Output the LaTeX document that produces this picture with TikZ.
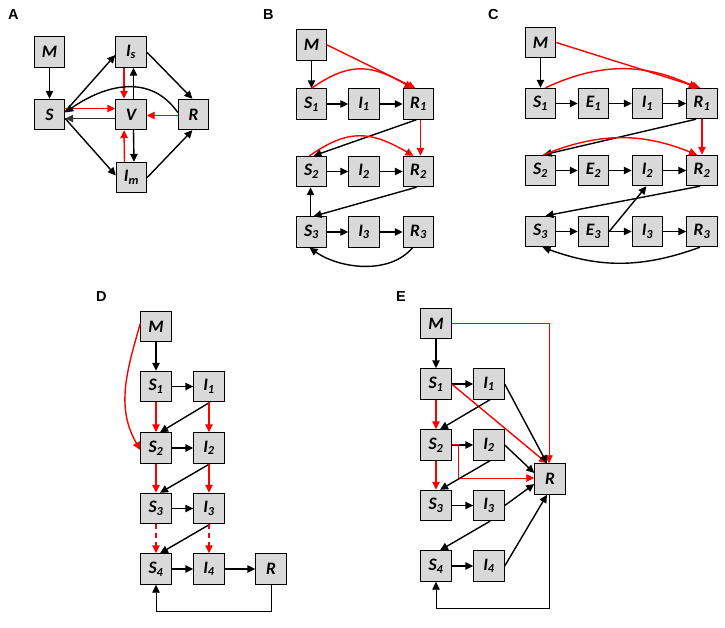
\documentclass[tikz,border=0pt]{standalone}
\usepackage{fontspec}
\setmainfont{Carlito}
\newfontfamily\panelfont{Liberation Sans}
\usetikzlibrary{arrows.meta}
\definecolor{boxgray}{RGB}{217,217,217}
\definecolor{flowred}{RGB}{255,0,0}
\tikzset{
    comp/.style={rectangle, draw=black, line width=0.9pt, fill=boxgray,
                 minimum size=30.5pt, inner sep=0pt,
                 font=\fontsize{17.5}{19}\selectfont\bfseries\itshape},
    panel/.style={font=\fontsize{14.5}{16}\selectfont\panelfont\bfseries,
                  inner sep=0pt, anchor=north west},
    flow/.style={-{Triangle[length=8pt,width=7.5pt]}, line width=1.4pt, draw=black},
    redflow/.style={flow, draw=flowred},
    thinflow/.style={flow, line width=0.8pt},
}

\begin{document}
\begin{tikzpicture}[x=1pt, y=1pt]
    \useasboundingbox (0,0) rectangle (725,-627);

    % A
    \node[panel] (lblA) at (8,-9) {A};
    \node[comp] (aM) at (49.5,-52) {M};
    \node[comp] (aS) at (49.5,-114.5) {S};
    \node[comp] (aIs) at (131,-52) {I\textsubscript{s}};
    \node[comp] (aV) at (131,-114.5) {V};
    \node[comp] (aR) at (193.5,-114.5) {R};
    \node[comp] (aIm) at (131.5,-177.5) {I\textsubscript{m}};
    \draw[flow] (aM) -- (aS);
    \draw[flow] ([yshift=3]aS.east) -- ([yshift=-3]aIs.west);
    \draw[flow] ([yshift=-4]aS.east) -- ([yshift=2]aIm.west);
    \draw[flow] (aIs.east) -- ([xshift=-1]aR.north);
    \draw[flow] (aIm.east) -- ([xshift=-1]aR.south);
    \draw[flow, draw=black!80] ([yshift=-4]aV.west) -- ([yshift=-4]aS.east);
    \draw[redflow] ([yshift=6]aS.east) -- ([yshift=6]aV.west);
    \draw[redflow] ([yshift=-1]aR.west) -- ([yshift=-1]aV.east);
    \draw[redflow] ([xshift=-7]aIs.south) -- ([xshift=-7]aV.north);
    \draw[flow] ([xshift=2.5]aV.north) -- ([xshift=2.5]aIs.south);
    \draw[flow] ([xshift=2.5]aV.south) -- ([xshift=2.5]aIm.north);
    \draw[redflow] ([xshift=-7]aIm.north) -- ([xshift=-7]aV.south);
    \draw[flow] ([yshift=2]aR.west) to[out=125, in=35, looseness=1.1] ([yshift=2]aS.east);

    % B
    \node[panel] (lblB) at (263,-9) {B};
    \node[comp] (bM) at (311.5,-45) {M};
    \node[comp] (bS1) at (311.5,-104) {S\textsubscript{1}};
    \node[comp] (bI1) at (364,-104) {I\textsubscript{1}};
    \node[comp] (bR1) at (418.5,-104) {R\textsubscript{1}};
    \node[comp] (bS2) at (311.5,-171.5) {S\textsubscript{2}};
    \node[comp] (bI2) at (364,-171.5) {I\textsubscript{2}};
    \node[comp] (bR2) at (418.5,-171.5) {R\textsubscript{2}};
    \node[comp] (bS3) at (311.5,-232) {S\textsubscript{3}};
    \node[comp] (bI3) at (364,-232) {I\textsubscript{3}};
    \node[comp] (bR3) at (418.5,-232) {R\textsubscript{3}};
    \draw[flow] (bM) -- (bS1);
    \draw[redflow] (bM.east) -- ([xshift=-3]bR1.north);
    \draw[redflow] (bS1.north) to[out=35, in=150, looseness=1.2] ([xshift=-6]bR1.north);
    \draw[flow] (bS1) -- (bI1);
    \draw[flow] (bI1) -- (bR1);
    \draw[flow] ([xshift=-2]bR1.south) -- ([xshift=2]bS2.north);
    \draw[redflow] ([xshift=2]bR1.south) -- ([xshift=2]bR2.north);
    \draw[redflow] ([xshift=-2]bS2.north) to[out=35, in=150, looseness=1.2] ([xshift=-5]bR2.north);
    \draw[flow] (bS2) -- (bI2);
    \draw[flow] (bI2) -- (bR2);
    \draw[flow] ([xshift=-2]bR2.south) -- ([xshift=2]bS3.north);
    \draw[flow] ([xshift=-1]bS3.north) -- ([xshift=-1]bS2.south);
    \draw[flow] (bS3) -- (bI3);
    \draw[flow] (bI3) -- (bR3);
    \draw[flow] ([xshift=-6]bR3.south) to[out=-130, in=-35, looseness=0.9] ([xshift=-2]bS3.south);

    % C
    \node[panel] (lblC) at (488,-9) {C};
    \node[comp] (cM) at (540.5,-42.5) {M};
    \node[comp] (cS1) at (540.5,-103.5) {S\textsubscript{1}};
    \node[comp] (cE1) at (593.5,-103.5) {E\textsubscript{1}};
    \node[comp] (cI1) at (647.5,-103.5) {I\textsubscript{1}};
    \node[comp] (cR1) at (702,-103.5) {R\textsubscript{1}};
    \node[comp] (cS2) at (540.5,-170.5) {S\textsubscript{2}};
    \node[comp] (cE2) at (593.5,-170.5) {E\textsubscript{2}};
    \node[comp] (cI2) at (647.5,-170.5) {I\textsubscript{2}};
    \node[comp] (cR2) at (702,-170.5) {R\textsubscript{2}};
    \node[comp] (cS3) at (540.5,-231.5) {S\textsubscript{3}};
    \node[comp] (cE3) at (593.5,-231.5) {E\textsubscript{3}};
    \node[comp] (cI3) at (647.5,-231.5) {I\textsubscript{3}};
    \node[comp] (cR3) at (702,-231.5) {R\textsubscript{3}};
    \draw[flow] (cM) -- (cS1);
    \draw[redflow] (cM.east) -- ([xshift=-2]cR1.north);
    \draw[redflow] ([xshift=5]cS1.north) to[out=25, in=155] ([xshift=-5]cR1.north);
    \draw[flow] (cS1) -- (cE1);
    \draw[flow] (cE1) -- (cI1);
    \draw[flow] (cI1) -- (cR1);
    \draw[flow] ([xshift=-6]cR1.south) -- ([xshift=3]cS2.north);
    \draw[redflow] (cR1) -- (cR2);
    \draw[redflow] ([xshift=3]cS2.north) to[out=22, in=158] ([xshift=-5]cR2.north);
    \draw[flow] (cS2) -- (cE2);
    \draw[flow] (cE2) -- (cI2);
    \draw[flow] (cI2) -- (cR2);
    \draw[flow] ([xshift=-2]cR2.south) -- ([xshift=5]cS3.north);
    \draw[flow] (cS3) -- (cE3);
    \draw[flow] (cE3) -- (cI3);
    \draw[flow] (cI3) -- (cR3);
    \draw[flow] (cE3.east) -- ([xshift=-1]cI2.south);
    \draw[flow] ([xshift=-2]cR3.south) to[out=-160, in=-20] ([xshift=2]cS3.south);

    % D
    \node[panel] (lblD) at (96,-291) {D};
    \node[comp] (dM) at (156,-326.5) {M};
    \node[comp] (dS1) at (156,-386.5) {S\textsubscript{1}};
    \node[comp] (dI1) at (209,-386.5) {I\textsubscript{1}};
    \node[comp] (dS2) at (156,-448) {S\textsubscript{2}};
    \node[comp] (dI2) at (209,-448) {I\textsubscript{2}};
    \node[comp] (dS3) at (156,-508.5) {S\textsubscript{3}};
    \node[comp] (dI3) at (209,-508.5) {I\textsubscript{3}};
    \node[comp] (dS4) at (156,-569) {S\textsubscript{4}};
    \node[comp] (dI4) at (209,-569) {I\textsubscript{4}};
    \node[comp] (dR) at (271,-569) {R};
    \draw[flow] (dM) -- (dS1);
    \draw[redflow] ([yshift=3]dM.west) to[out=-106, in=120] ([yshift=-2]dS2.west);
    \draw[flow] (dS1) -- (dI1);
    \draw[flow] (dS2) -- (dI2);
    \draw[flow] (dS3) -- (dI3);
    \draw[flow] (dS4) -- (dI4);
    \draw[flow] (dI4) -- (dR);
    \draw[flow] ([xshift=1]dI1.south) -- ([xshift=4]dS2.north);
    \draw[flow] ([xshift=1]dI2.south) -- ([xshift=4]dS3.north);
    \draw[flow] ([xshift=1]dI3.south) -- ([xshift=4]dS4.north);
    \draw[redflow] (dS1) -- (dS2);
    \draw[redflow] (dS2) -- (dS3);
    \draw[redflow, dash pattern=on 5pt off 4pt] (dS3) -- (dS4);
    \draw[redflow] (dI1) -- (dI2);
    \draw[redflow] (dI2) -- (dI3);
    \draw[redflow, dash pattern=on 5pt off 4pt] (dI3) -- (dI4);
    \draw[thinflow] (dR.south) -- ++(0,-27) -| (dS4.south);

    % E
    \node[panel] (lblE) at (396,-291) {E};
    \node[comp] (eM) at (436,-323.5) {M};
    \node[comp] (eS1) at (436,-384) {S\textsubscript{1}};
    \node[comp] (eI1) at (489,-384) {I\textsubscript{1}};
    \node[comp] (eS2) at (436,-445) {S\textsubscript{2}};
    \node[comp] (eI2) at (489,-445) {I\textsubscript{2}};
    \node[comp] (eS3) at (436,-505.5) {S\textsubscript{3}};
    \node[comp] (eI3) at (489,-505.5) {I\textsubscript{3}};
    \node[comp] (eS4) at (436,-566) {S\textsubscript{4}};
    \node[comp] (eI4) at (489,-566) {I\textsubscript{4}};
    \node[comp] (eR) at (550,-479) {R};
    \draw[flow] (eM) -- (eS1);
    \draw[thinflow, draw=flowred] (eM.east) -| ([xshift=-1]eR.north);
    \draw[flow] (eS1) -- (eI1);
    \draw[redflow] (eS1.east) -- ([xshift=-3]eR.north);
    \draw[flow] (eI1.east) -- ([xshift=-3]eR.north);
    \draw[flow] ([xshift=1]eI1.south) -- ([xshift=4]eS2.north);
    \draw[redflow] (eS1) -- (eS2);
    \draw[redflow] (eS2) -- (eS3);
    \draw[flow] (eS2) -- (eI2);
    \draw[thinflow, draw=flowred] ([yshift=1]eS2.east) -- ++(7,0) |- ([yshift=1]eR.west);
    \draw[flow] (eI2.east) -- ([yshift=6]eR.west);
    \draw[flow] ([xshift=1]eI2.south) -- ([xshift=4]eS3.north);
    \draw[flow] (eS3) -- (eI3);
    \draw[flow] (eI3.east) -- ([yshift=-5]eR.west);
    \draw[flow] ([xshift=1]eI3.south) -- ([xshift=4]eS4.north);
    \draw[flow] (eS4) -- (eI4);
    \draw[flow] (eI4.east) -- ([xshift=-3]eR.south);
    \draw[thinflow] ([xshift=-1]eR.south) -- ++(0,-114) -| (eS4.south);
\end{tikzpicture}
\end{document}
